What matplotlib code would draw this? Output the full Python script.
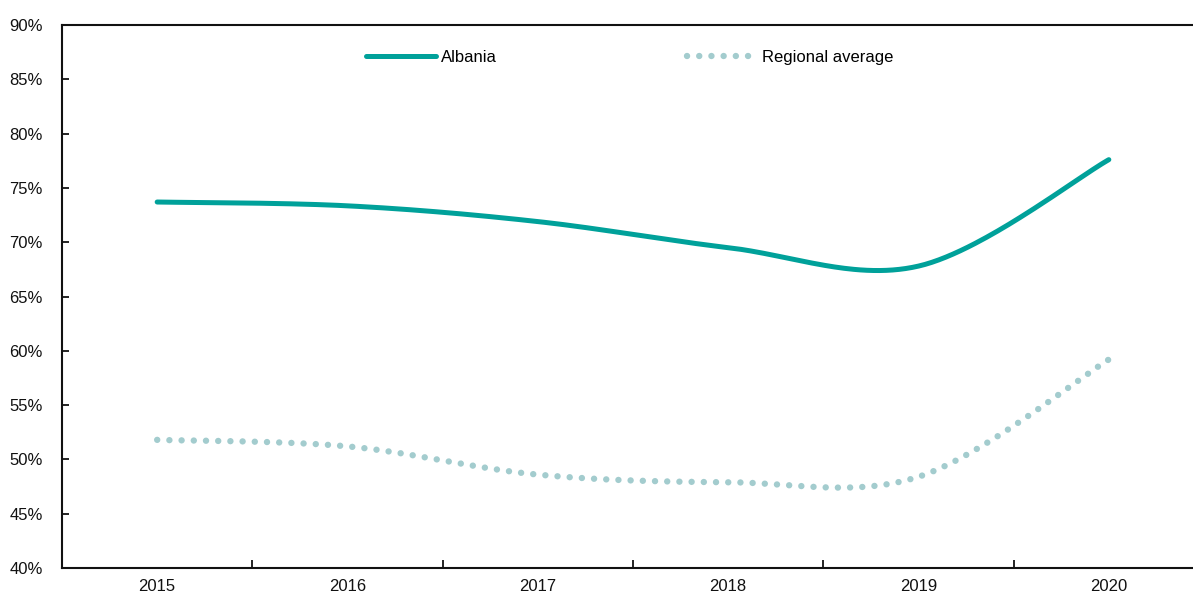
import numpy as np
import matplotlib.pyplot as plt
from matplotlib.ticker import FuncFormatter

plt.rcParams['font.family'] = ['Liberation Sans', 'DejaVu Sans']

years = ['2015', '2016', '2017', '2018', '2019', '2020']
albania = [73.7, 73.35, 71.9, 69.5, 67.8, 77.6]
regional = [51.8, 51.2, 48.6, 47.9, 48.4, 59.2]


def smooth(xs, ys, n=60):
    # Excel-style smoothed line: cubic Bezier segments with control points at 1/6 of the neighbour chord
    pts = np.column_stack([xs, ys]).astype(float)
    out = [pts[0]]
    for i in range(len(pts) - 1):
        p0 = pts[max(i - 1, 0)]
        p1 = pts[i]
        p2 = pts[i + 1]
        p3 = pts[min(i + 2, len(pts) - 1)]
        c1 = p1 + (p2 - p0) / 6
        c2 = p2 - (p3 - p1) / 6
        t = np.linspace(0, 1, n)[1:, None]
        seg = ((1 - t) ** 3) * p1 + 3 * ((1 - t) ** 2) * t * c1 + 3 * (1 - t) * t ** 2 * c2 + t ** 3 * p2
        out.extend(seg)
    out = np.array(out)
    return out[:, 0], out[:, 1]


fig = plt.figure(figsize=(11.93, 5.93), dpi=100)
ax = fig.add_axes([62 / 1193, 25 / 593, 1142 / 1193, 543 / 593])

x = np.arange(len(years))
sx, sy = smooth(x, albania)
ax.plot(sx, sy, color='#00A19A', lw=3.6, solid_capstyle='round', label='Albania')
rx, ry = smooth(x, regional)
ax.plot(rx, ry, color='#A3CCCE', lw=4.6, linestyle=(0, (0.01, 1.9)),
        dash_capstyle='round', label='Regional average')

ax.set_xlim(-0.5, 5.5)
ax.set_ylim(40, 90)
ax.set_yticks(np.arange(40, 91, 5))
ax.yaxis.set_major_formatter(FuncFormatter(lambda v, p: f'{v:.0f}%'))
ax.set_xticks(x)
ax.set_xticklabels(years)
ax.set_xticks(np.arange(0.5, 5.5, 1), minor=True)

for s in ['left', 'bottom', 'top']:
    ax.spines[s].set_linewidth(1.5)
    ax.spines[s].set_color('#111111')
ax.spines['right'].set_visible(False)

ax.tick_params(axis='y', direction='in', length=5, width=1.3, pad=14, labelsize=12, colors='#111111')
ax.tick_params(axis='x', which='major', length=0, pad=8, labelsize=12, colors='#111111')
ax.tick_params(axis='x', which='minor', direction='in', length=6, width=1.3, color='#111111')

ax.legend(loc='center', bbox_to_anchor=(0.4973, 1 - 32.5 / 543), ncol=2, frameon=False,
          fontsize=12, handlelength=4.2, handletextpad=0.3, columnspacing=11.4)

fig.savefig('out.png', dpi=100)
